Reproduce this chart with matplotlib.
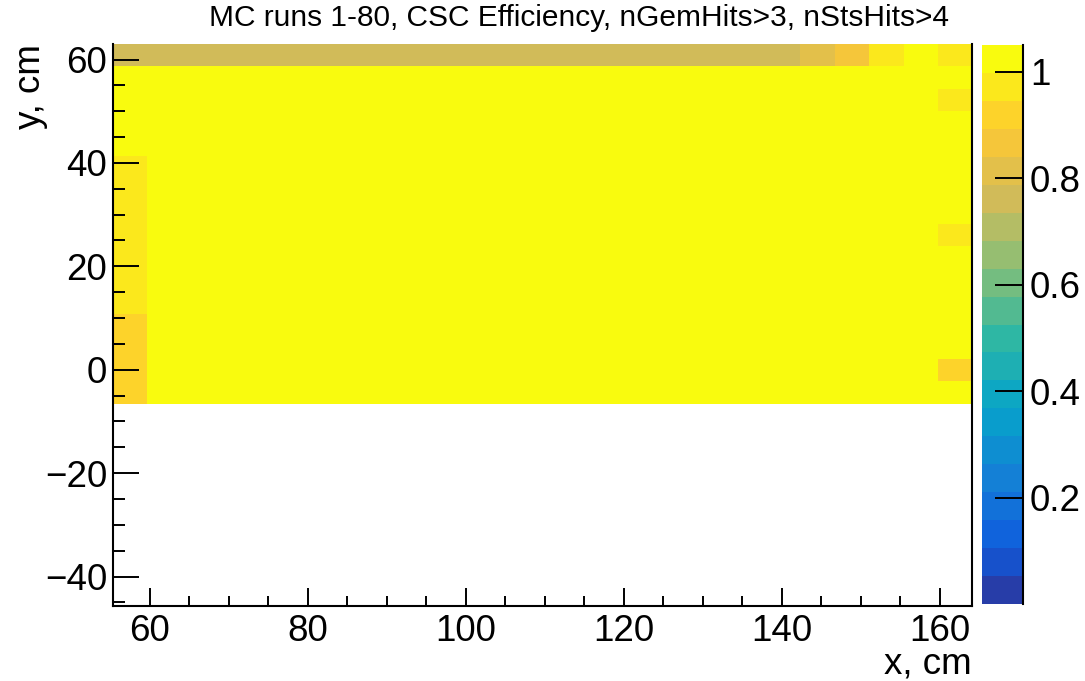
import numpy as np
import matplotlib
matplotlib.use("Agg")
import matplotlib.pyplot as plt
from matplotlib.colors import ListedColormap, Normalize
from matplotlib.ticker import MultipleLocator

plt.rcParams['font.family'] = ['Liberation Sans', 'DejaVu Sans']

# Histogram binning (25 x 25 bins)
x_lo, x_hi, n_x = 55.3, 164.1, 25
y_lo, y_hi, n_y = -45.7, 63.0, 25

# Efficiency per bin, only the filled rows, listed from the top row (y ~ 60) down
eff = [
    [0.76] * 20 + [0.81, 0.87, 0.97, 1.00, 0.97],
    [1.00] * 25,
    [1.00] * 24 + [0.97],
    [1.00] * 25,
    [1.00] * 25,
    [0.97] + [1.00] * 24,
    [0.97] + [1.00] * 24,
    [0.97] + [1.00] * 24,
    [0.97] + [1.00] * 23 + [0.97],
    [0.97] + [1.00] * 24,
    [0.97] + [1.00] * 24,
    [0.97] + [1.00] * 24,
    [0.92] + [1.00] * 24,
    [0.92] + [1.00] * 24,
    [0.92] + [1.00] * 23 + [0.92],
    [0.92] + [1.00] * 24,
]

z_min, z_max = 0.0, 1.05
cbar_ticks = [0.2, 0.4, 0.6, 0.8, 1.0]
cbar_labels = ["0.2", "0.4", "0.6", "0.8", "1"]

# ROOT kBird palette, 20 contour bands
stops = [0, .125, .25, .375, .5, .625, .75, .875, 1]
red = [0.2082, 0.0592, 0.0780, 0.0232, 0.1802, 0.5301, 0.8186, 0.9956, 0.9764]
green = [0.1664, 0.3599, 0.5041, 0.6419, 0.7178, 0.7492, 0.7328, 0.7862, 0.9832]
blue = [0.5293, 0.8684, 0.8385, 0.7914, 0.6425, 0.4662, 0.3499, 0.1968, 0.0539]
n_cont = 20
fr = [int((i + 0.99) * 255 / n_cont) / 254 for i in range(n_cont)]
bird = ListedColormap([(np.interp(f, stops, red), np.interp(f, stops, green),
                        np.interp(f, stops, blue)) for f in fr])

W, H = 1085, 681
fig = plt.figure(figsize=(W / 100, H / 100), dpi=100)
ax = fig.add_axes([112.7 / W, 1 - 606 / H, (972.3 - 112.7) / W, (606 - 44) / H])

x_edges = np.linspace(x_lo, x_hi, n_x + 1)
y_edges = np.linspace(y_lo, y_hi, n_y + 1)
z = np.array(eff)[::-1]
mesh = ax.pcolormesh(x_edges, y_edges[-(len(eff) + 1):], z, cmap=bird,
                     norm=Normalize(z_min, z_max))

ax.set_xlim(x_lo, x_hi)
ax.set_ylim(y_lo, y_hi)
ax.xaxis.set_minor_locator(MultipleLocator(5))
ax.yaxis.set_minor_locator(MultipleLocator(5))
ax.set_xticks([60, 80, 100, 120, 140, 160])
ax.set_xticklabels(["60", "80", "100", "120", "140", "160"])
ax.set_yticks([-40, -20, 0, 20, 40, 60])
ax.set_yticklabels(["\u221240", "\u221220", "0", "20", "40", "60"])
ax.tick_params(axis='both', which='both', direction='in', top=False, right=False,
               width=1.4, labelsize=26.5)
ax.tick_params(axis='x', which='major', length=13, pad=6)
ax.tick_params(axis='x', which='minor', length=7)
ax.tick_params(axis='y', which='major', length=18.5, pad=4)
ax.tick_params(axis='y', which='minor', length=8.5)
ax.spines['top'].set_visible(False)
for s in ['left', 'bottom', 'right']:
    ax.spines[s].set_linewidth(1.5)

fig.text(972 / W, 1 - 664 / H, "x, cm", ha='right', va='center', fontsize=26.5)
fig.text(31 / W, 1 - 44 / H, "y, cm", ha='center', va='top', rotation=90, fontsize=26.5)
fig.text(579 / W, 1 - 18 / H, "MC runs 1-80, CSC Efficiency, nGemHits>3, nStsHits>4",
         ha='center', va='center', fontsize=21.5)

# colour palette axis
cax = fig.add_axes([981.7 / W, 1 - 604 / H, (1023 - 981.7) / W, (604 - 45) / H])
cb = fig.colorbar(mesh, cax=cax)
cb.outline.set_visible(False)
cb.set_ticks(cbar_ticks)
cb.set_ticklabels(cbar_labels)
cax.minorticks_off()
cax.tick_params(axis='y', direction='in', length=20, width=1.4, labelsize=26.5, pad=5,
                left=False, right=True)
cax.plot([1, 1], [0, 1], transform=cax.transAxes, color='black', lw=1.5,
         clip_on=False)

fig.savefig("out.png", dpi=100)
